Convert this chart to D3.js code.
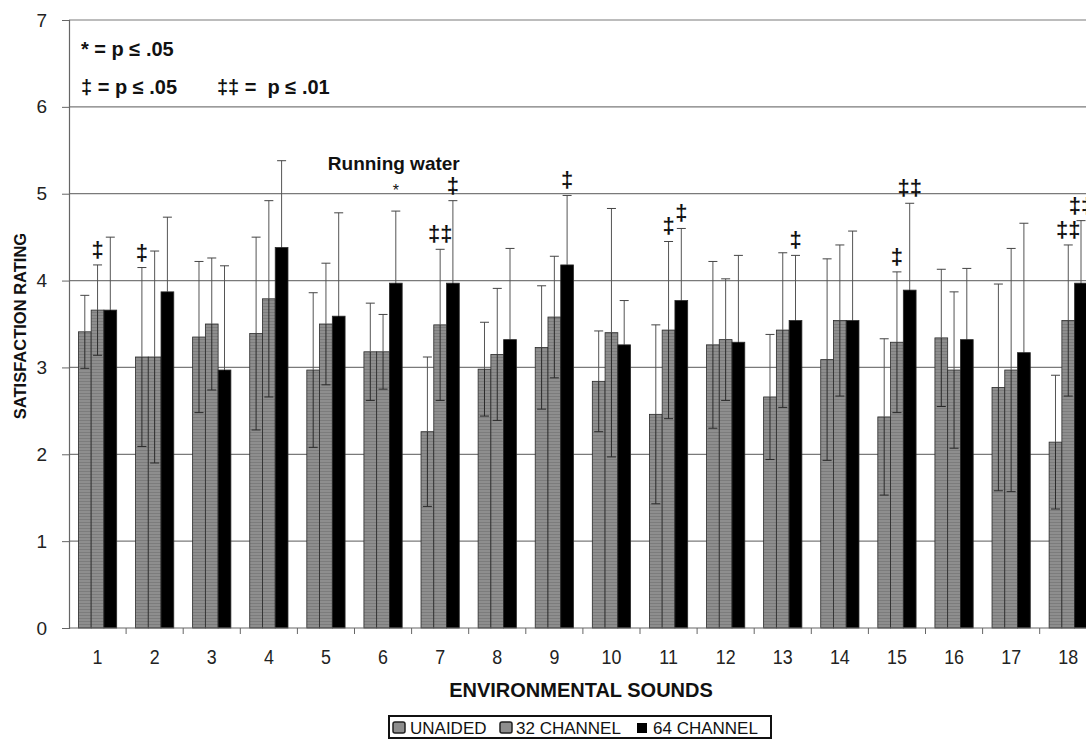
<!DOCTYPE html>
<html>
<head>
<meta charset="utf-8">
<script src="https://cdn.jsdelivr.net/npm/d3@7"></script>
<style>
  html, body { margin: 0; padding: 0; background: #fff; }
  svg { display: block; font-family: "Liberation Sans", Arial, sans-serif; }
</style>
</head>
<body>
<svg id="chart" width="1086" height="740"></svg>
<script>
// Environmental sound categories (1–18)
const categories = ["1","2","3","4","5","6","7","8","9","10","11","12","13","14","15","16","17","18"];
const seriesNames = ["UNAIDED", "32 CHANNEL", "64 CHANNEL"];

// Mean satisfaction ratings
const unaided = [3.41,3.12,3.35,3.39,2.97,3.18,2.26,2.98,3.23,2.84,2.46,3.26,2.66,3.09,2.43,3.34,2.77,2.14];
const ch32    = [3.66,3.12,3.50,3.79,3.50,3.18,3.49,3.15,3.58,3.40,3.43,3.32,3.43,3.54,3.29,2.97,2.97,3.54];
const ch64    = [3.66,3.87,2.97,4.38,3.59,3.97,3.97,3.32,4.18,3.26,3.77,3.29,3.54,3.54,3.89,3.32,3.17,3.97];

// Standard deviations (error bars)
const unaidedSD = [0.42,1.03,0.87,1.11,0.89,0.56,0.86,0.54,0.71,0.58,1.03,0.96,0.72,1.16,0.90,0.79,1.19,0.77];
const ch32SD    = [0.52,1.22,0.76,1.13,0.70,0.43,0.87,0.76,0.70,1.43,1.02,0.70,0.89,0.87,0.81,0.90,1.40,0.87];
const ch64SD    = [0.84,0.86,1.20,1.00,1.19,0.83,0.95,1.05,0.80,0.51,0.83,1.00,0.75,1.03,1.00,0.82,1.49,0.72];

// Y-axis ticks
const yTicks = [0,1,2,3,4,5,6,7];

// Significance markers: category, series index, symbol
const sigCategory = ["1","2","6","7","7","9","11","11","13","15","15","18","18"];
const sigSeries   = [1,0,2,1,2,2,1,2,2,1,2,1,2];
const sigSymbol   = ["‡","‡","*","‡‡","‡","‡","‡","‡","‡","‡","‡‡","‡‡","‡‡"];

// Key for significance symbols
const keyLines = [["* = p ≤ .05"], ["‡ = p ≤ .05", "‡‡ =  p ≤ .01"]];

const means = [unaided, ch32, ch64];
const sds = [unaidedSD, ch32SD, ch64SD];
const barColors = ["#2a2a2a", "#2a2a2a", "#000"];

const svg = d3.select("#chart");
const plotLeft = 69, plotTop = 20, plotBottom = 628, step = 57.1;

const x = d3.scaleBand().domain(categories)
  .range([plotLeft, plotLeft + step * categories.length])
  .paddingInner(0.33).paddingOuter(0.165);
const xs = d3.scaleBand().domain(d3.range(3)).range([0, x.bandwidth()]);
const y = d3.scaleLinear().domain([0, 7]).range([plotBottom, plotTop]);

// Striped gray fill used by the first two series
const defs = svg.append("defs");
const pat = defs.append("pattern").attr("id", "stripe")
  .attr("patternUnits", "userSpaceOnUse").attr("width", 4).attr("height", 3);
pat.append("rect").attr("width", 4).attr("height", 3).attr("fill", "#8e8e8e");
pat.append("rect").attr("width", 4).attr("height", 1).attr("fill", "#7c7c7c");
const fills = ["url(#stripe)", "url(#stripe)", "#000"];

// Horizontal gridlines
svg.append("g").selectAll("line").data(yTicks.filter(d => d > 0)).join("line")
  .attr("x1", plotLeft).attr("x2", 1086)
  .attr("y1", d => y(d)).attr("y2", d => y(d))
  .attr("stroke", "#7a7a7a").attr("stroke-width", 1.2);

// Y axis
const yAxis = svg.append("g").attr("transform", `translate(${plotLeft},0)`)
  .call(d3.axisLeft(y).tickValues(yTicks).tickSize(7).tickPadding(15).tickFormat(d3.format("d")));
yAxis.select(".domain").attr("stroke", "#666").attr("stroke-width", 1.2);
yAxis.selectAll(".tick line").attr("stroke", "#666");
yAxis.selectAll(".tick text").attr("font-size", 19).attr("fill", "#222")
  .attr("font-family", "Liberation Sans, Arial, sans-serif");

// Bars
const rows = [];
categories.forEach((c, i) => {
  for (let s = 0; s < 3; s++) rows.push({ c, s, v: means[s][i], sd: sds[s][i] });
});
const barG = svg.append("g");
barG.selectAll("rect").data(rows).join("rect")
  .attr("x", d => x(d.c) + xs(d.s))
  .attr("width", xs.bandwidth())
  .attr("y", d => y(d.v))
  .attr("height", d => y(0) - y(d.v))
  .attr("fill", d => fills[d.s])
  .attr("stroke", "#2a2a2a").attr("stroke-width", 0.8);

// Error bars: upper whisker in gray, lower whisker in the bar's outline colour
const cx = d => x(d.c) + xs(d.s) + xs.bandwidth() / 2;
const errG = svg.append("g").attr("stroke-width", 1);
errG.selectAll("line.up").data(rows).join("line").attr("class", "up")
  .attr("stroke", "#555")
  .attr("x1", cx).attr("x2", cx)
  .attr("y1", d => y(d.v)).attr("y2", d => y(d.v + d.sd));
errG.selectAll("line.capT").data(rows).join("line").attr("class", "capT")
  .attr("stroke", "#444")
  .attr("x1", d => cx(d) - 4.5).attr("x2", d => cx(d) + 4.5)
  .attr("y1", d => y(d.v + d.sd)).attr("y2", d => y(d.v + d.sd));
errG.selectAll("line.down").data(rows).join("line").attr("class", "down")
  .attr("stroke", d => barColors[d.s])
  .attr("x1", cx).attr("x2", cx)
  .attr("y1", d => y(d.v)).attr("y2", d => y(d.v - d.sd));
errG.selectAll("line.capB").data(rows).join("line").attr("class", "capB")
  .attr("stroke", d => barColors[d.s])
  .attr("x1", d => cx(d) - 4.5).attr("x2", d => cx(d) + 4.5)
  .attr("y1", d => y(d.v - d.sd)).attr("y2", d => y(d.v - d.sd));

// X axis line and category ticks
svg.append("line").attr("x1", plotLeft).attr("x2", 1086)
  .attr("y1", plotBottom).attr("y2", plotBottom).attr("stroke", "#666").attr("stroke-width", 1.2);
const gap = (x.step() - x.bandwidth()) / 2;
svg.append("g").selectAll("line").data(categories).join("line")
  .attr("x1", d => x(d) + x.bandwidth() + gap).attr("x2", d => x(d) + x.bandwidth() + gap)
  .attr("y1", plotBottom).attr("y2", plotBottom + 6).attr("stroke", "#666");
svg.append("g").selectAll("text").data(categories).join("text")
  .attr("transform", d => `translate(${x(d) + x.bandwidth() / 2},${plotBottom + 36}) scale(0.85,1)`)
  .attr("text-anchor", "middle").attr("font-size", 21).attr("fill", "#222")
  .text(d => d);

// Axis titles
svg.append("text").attr("x", 581).attr("y", 697).attr("text-anchor", "middle")
  .attr("font-size", 20).attr("font-weight", "bold").attr("fill", "#111")
  .text("ENVIRONMENTAL SOUNDS");
svg.append("text").attr("transform", "translate(26,326) rotate(-90)")
  .attr("text-anchor", "middle").attr("font-size", 16.5).attr("font-weight", "bold").attr("fill", "#111")
  .text("SATISFACTION RATING");

// Significance markers
const sigs = sigCategory.map((c, k) => {
  const i = categories.indexOf(c), s = sigSeries[k];
  return { c, s, sym: sigSymbol[k], top: means[s][i] + sds[s][i] };
});
svg.append("g").selectAll("text").data(sigs).join("text")
  .attr("x", d => cx(d))
  .attr("y", d => y(d.top) - (d.sym === "*" ? 15 : 8))
  .attr("text-anchor", "middle")
  .attr("font-size", d => d.sym === "*" ? 16 : 22)
  .attr("font-weight", d => d.sym === "*" ? "normal" : "bold")
  .attr("fill", "#111")
  .text(d => d.sym);

// "Running water" label over category 6
const rw = sigs.find(d => d.sym === "*");
svg.append("text").attr("x", cx(rw) - 2).attr("y", 170).attr("text-anchor", "middle")
  .attr("font-size", 19).attr("font-weight", "bold").attr("fill", "#111")
  .text("Running water");

// Key for significance symbols
svg.append("text").attr("x", 81).attr("y", 56).attr("font-size", 20)
  .attr("font-weight", "bold").attr("fill", "#111").text(keyLines[0][0]);
svg.append("text").attr("x", 81).attr("y", 94).attr("font-size", 20)
  .attr("font-weight", "bold").attr("fill", "#111").text(keyLines[1][0]);
svg.append("text").attr("x", 217).attr("y", 94).attr("font-size", 20)
  .attr("font-weight", "bold").attr("fill", "#111")
  .style("white-space", "pre").text(keyLines[1][1]);

// Legend
const lg = svg.append("g");
lg.append("rect").attr("x", 389).attr("y", 716).attr("width", 382).attr("height", 22)
  .attr("fill", "#fff").attr("stroke", "#111").attr("stroke-width", 2);
const legendX = [393, 500, 637];
const legendTextX = [410, 516, 653];
seriesNames.forEach((n, s) => {
  if (s < 2) {
    lg.append("rect").attr("x", legendX[s]).attr("y", 722).attr("width", 12).attr("height", 11)
      .attr("rx", 2).attr("fill", "#8e8e8e").attr("stroke", "#222").attr("stroke-width", 1.5);
  } else {
    lg.append("rect").attr("x", legendX[s]).attr("y", 723).attr("width", 10).attr("height", 10)
      .attr("fill", "#000");
  }
  lg.append("text").attr("x", legendTextX[s]).attr("y", 734).attr("font-size", 17)
    .attr("fill", "#111").text(n);
});
</script>
</body>
</html>
